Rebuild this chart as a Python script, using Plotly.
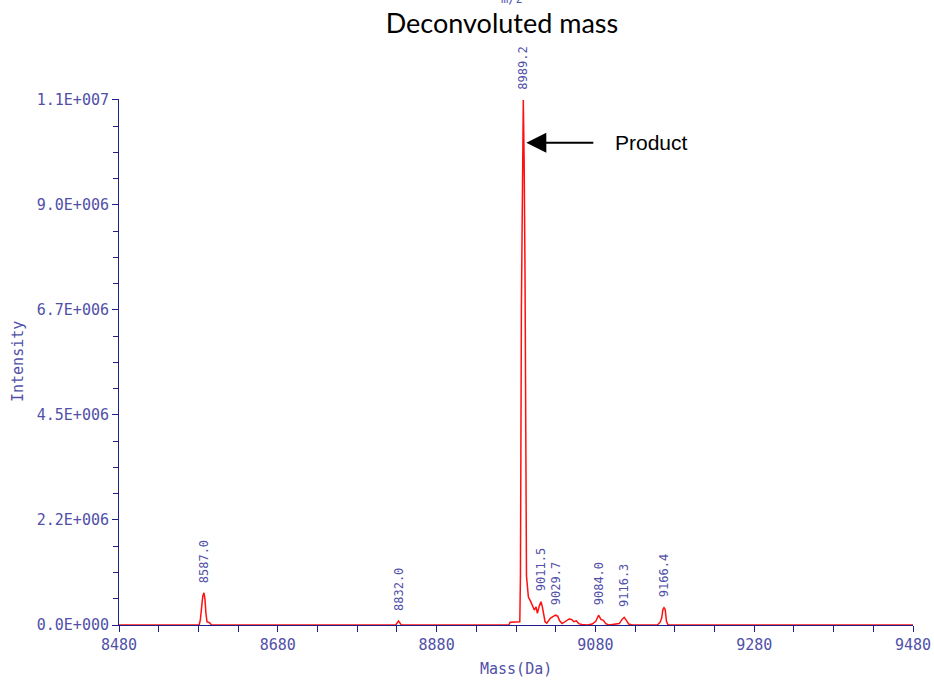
import plotly.graph_objects as go

# Deconvoluted spectrum: mass (Da) and intensity (counts)
mass = [
    8480.0, 8581.0, 8582.5, 8584.0, 8585.5, 8587.0, 8588.3, 8589.5, 8590.8, 8592.5, 8594.5, 8596.5,
    8828.5, 8830.5, 8832.0, 8833.5, 8835.5,
    8971.0, 8972.5, 8984.8, 8985.6, 8986.8, 8988.0, 8989.2, 8990.3, 8991.4, 8993.2,
    8995.6, 8998.6, 9001.1, 9003.1, 9005.3, 9006.9, 9009.4, 9011.5, 9013.2, 9014.5, 9016.6, 9018.7,
    9020.5, 9023.5, 9026.5, 9029.7, 9032.5, 9035.0, 9038.0, 9041.0, 9044.0, 9047.0, 9050.0,
    9053.0, 9056.0, 9059.0, 9063.0, 9070.0, 9076.0, 9080.5, 9084.0, 9087.0, 9090.0, 9093.0,
    9097.0, 9105.0, 9110.0, 9113.5, 9116.3, 9119.0, 9122.0, 9126.0,
    9158.0, 9161.5, 9163.5, 9165.0, 9166.4, 9167.9, 9169.5, 9171.5, 9480.0,
]
intensity = [
    0.0, 0.0, 0.12e6, 0.45e6, 0.62e6, 0.69e6, 0.55e6, 0.25e6, 0.07e6, 0.06e6, 0.04e6, 0.0,
    0.0, 0.05e6, 0.085e6, 0.05e6, 0.0,
    0.0, 0.06e6, 0.07e6, 1.07e6, 6.8e6, 10.0e6, 11.25e6, 9.9e6, 7.4e6, 1.05e6,
    0.6e6, 0.5e6, 0.39e6, 0.32e6, 0.39e6, 0.25e6, 0.41e6, 0.5e6, 0.39e6, 0.25e6, 0.07e6, 0.04e6,
    0.08e6, 0.15e6, 0.18e6, 0.21e6, 0.19e6, 0.09e6, 0.03e6, 0.06e6, 0.10e6, 0.13e6, 0.12e6,
    0.07e6, 0.09e6, 0.03e6, 0.01e6, 0.0, 0.02e6, 0.08e6, 0.21e6, 0.12e6, 0.10e6, 0.03e6,
    0.0, 0.01e6, 0.03e6, 0.12e6, 0.165e6, 0.10e6, 0.02e6, 0.0,
    0.0, 0.06e6, 0.15e6, 0.33e6, 0.37e6, 0.33e6, 0.08e6, 0.0, 0.0,
]

# Labelled peak centroids
peak_masses = [8587.0, 8832.0, 8989.2, 9011.5, 9029.7, 9084.0, 9116.3, 9166.4]
peak_labels = ["8587.0", "8832.0", "8989.2", "9011.5", "9029.7", "9084.0", "9116.3", "9166.4"]

# Axis ticks
y_tick_vals = [0, 2.25e6, 4.5e6, 6.75e6, 9.0e6, 11.25e6]
y_tick_text = ["0.0E+000", "2.2E+006", "4.5E+006", "6.7E+006", "9.0E+006", "1.1E+007"]
x_tick_vals = [8480, 8680, 8880, 9080, 9280, 9480]

AXIS = "#1e1e86"
LABEL = "#5050a8"
MONO = "DejaVu Sans Mono"

fig = go.Figure()
fig.add_trace(go.Scatter(
    x=mass, y=intensity, mode="lines",
    line=dict(color="#ff1010", width=1.5),
    hoverinfo="x+y", showlegend=False,
))

lookup = dict(zip(mass, intensity))
for m, txt in zip(peak_masses, peak_labels):
    fig.add_annotation(
        x=m, y=lookup[m], text=txt, showarrow=False, textangle=-90,
        xanchor="center", yanchor="bottom", yshift=8,
        font=dict(family=MONO, size=12, color=LABEL),
    )

# Arrow marking the product peak
apex_mass = peak_masses[2]
fig.add_annotation(
    x=apex_mass, y=10.33e6, xshift=3, text=" ", showarrow=True,
    ax=70, ay=0, arrowhead=2, arrowsize=2, arrowwidth=2, arrowcolor="black",
)
fig.add_annotation(
    x=apex_mass, y=10.33e6, xshift=90, text="Product", showarrow=False,
    xanchor="left", yanchor="middle",
    font=dict(family="Liberation Sans, Arial", size=21, color="black"),
)

# Partially visible header above the title
fig.add_annotation(
    xref="paper", yref="paper", x=(512 - 119) / 793.5, y=1, yshift=100,
    text="m/z", showarrow=False, yanchor="middle",
    font=dict(family=MONO, size=12, color=LABEL),
)

# Axis titles
fig.add_annotation(
    xref="paper", yref="paper", x=0.5, y=0, yshift=-44,
    text="Mass(Da)", showarrow=False, xanchor="center", yanchor="middle",
    font=dict(family=MONO, size=15, color=LABEL),
)
fig.add_annotation(
    xref="paper", yref="paper", x=0, y=0.5, xshift=-101, textangle=-90,
    text="Intensity", showarrow=False, xanchor="center", yanchor="middle",
    font=dict(family=MONO, size=15, color=LABEL),
)

fig.update_layout(
    width=934, height=680, autosize=False,
    margin=dict(l=119, r=21, t=99, b=55, autoexpand=False),
    paper_bgcolor="white", plot_bgcolor="white",
    title=dict(
        text="Deconvoluted mass", x=502 / 934, xref="container", xanchor="center",
        y=1 - 24 / 680, yref="container", yanchor="middle",
        font=dict(family="Lato", size=27, color="black"),
    ),
    xaxis=dict(
        range=[8480, 9480], tickmode="array", tickvals=x_tick_vals,
        ticks="outside", ticklen=6, tickcolor=AXIS, tickwidth=1,
        showline=True, linecolor=AXIS, linewidth=1, automargin=False,
        showgrid=False, zeroline=False,
        tickfont=dict(family=MONO, size=15, color=LABEL),
        minor=dict(tickmode="linear", tick0=8480, dtick=50, ticks="outside", ticklen=6,
                   tickcolor=AXIS, showgrid=False),
    ),
    yaxis=dict(
        range=[0, 11.27e6], tickmode="array", tickvals=y_tick_vals, ticktext=y_tick_text,
        ticks="outside", ticklen=6, tickcolor=AXIS, tickwidth=1,
        showline=True, linecolor=AXIS, linewidth=1, automargin=False,
        showgrid=False, zeroline=False,
        tickfont=dict(family=MONO, size=15, color=LABEL),
        minor=dict(tickmode="linear", tick0=0, dtick=562500, ticks="outside", ticklen=5,
                   tickcolor=AXIS, showgrid=False),
    ),
)

fig.write_html("out.html")
